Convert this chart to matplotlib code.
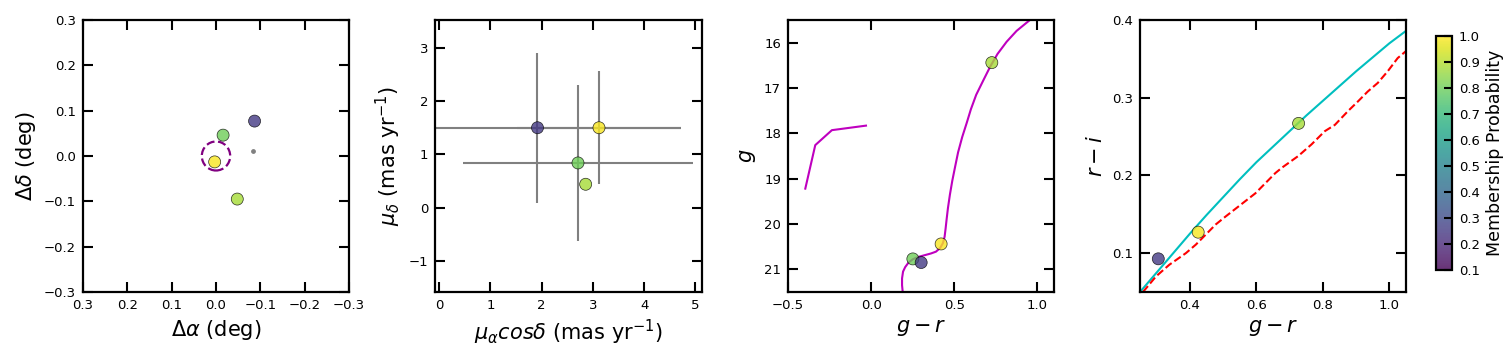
import numpy as np
import matplotlib
matplotlib.use("Agg")
import matplotlib.pyplot as plt
from matplotlib.patches import Circle

# ---- data ----
prob = [0.99, 0.80, 0.88, 0.25]                 # yellow, green, light green, dark
d_ra = [0.003, -0.016, -0.048, -0.087]
d_dec = [-0.013, 0.046, -0.095, 0.077]
other_ra = [-0.083]
other_dec = [0.012]
rh_deg = 0.032

pmra = [3.12, 2.71, 2.86, 1.92]
pmdec = [1.50, 0.84, 0.44, 1.50]
pmra_err = [1.60, 2.24, 0.0, 2.80]
pmdec_err = [1.06, 1.47, 0.0, 1.41]

g_r = [0.421, 0.251, 0.726, 0.301]
g_mag = [20.44, 20.77, 16.44, 20.85]

gr_col = [0.425, 0.727, 0.305]
ri_col = [0.127, 0.267, 0.0927]
ri_prob = [0.99, 0.88, 0.25]

iso_rgb_gr = [0.190, 0.186, 0.186, 0.192, 0.205, 0.225, 0.250, 0.280, 0.320,
              0.360, 0.390, 0.415, 0.432, 0.442, 0.448, 0.454, 0.462, 0.474,
              0.488, 0.505, 0.523, 0.548, 0.575, 0.600, 0.632, 0.675, 0.716,
              0.760, 0.815, 0.875, 0.955]
iso_rgb_g = [21.50, 21.35, 21.20, 21.05, 20.95, 20.85, 20.78, 20.73, 20.69,
             20.65, 20.61, 20.53, 20.42, 20.28, 20.10, 19.90, 19.65, 19.35,
             19.05, 18.74, 18.42, 18.08, 17.77, 17.47, 17.15, 16.83, 16.53,
             16.25, 15.98, 15.74, 15.50]
iso_hb_gr = [-0.396, -0.336, -0.236, -0.031]
iso_hb_g = [19.22, 18.26, 17.93, 17.83]

cc_iso_gr = [0.25, 0.30, 0.35, 0.40, 0.45, 0.50, 0.55, 0.60, 0.65, 0.70,
             0.75, 0.80, 0.85, 0.90, 0.95, 1.00, 1.05]
cc_iso_ri = [0.050, 0.075, 0.100, 0.125, 0.149, 0.172, 0.195, 0.217, 0.237,
             0.257, 0.277, 0.296, 0.315, 0.334, 0.352, 0.370, 0.386]

cc_loc_gr = [0.259, 0.298, 0.338, 0.368, 0.388, 0.418, 0.448, 0.478, 0.507,
             0.537, 0.567, 0.597, 0.627, 0.657, 0.677, 0.726, 0.766, 0.806,
             0.836, 0.876, 0.905, 0.935, 0.965, 0.995, 1.025, 1.050]
cc_loc_ri = [0.050, 0.070, 0.085, 0.094, 0.100, 0.111, 0.124, 0.137, 0.147,
             0.157, 0.167, 0.177, 0.190, 0.203, 0.210, 0.225, 0.240, 0.257,
             0.265, 0.283, 0.295, 0.308, 0.319, 0.334, 0.351, 0.360]

# ---- style ----
plt.rcParams['font.family'] = ['DejaVu Sans']
plt.rcParams['mathtext.fontset'] = 'dejavusans'
TICK_FS = 9.5
LAB_FS = 15
cmap = 'viridis'
vmin, vmax = 0.1, 1.0
sc_kw = dict(c=None, cmap=cmap, vmin=vmin, vmax=vmax, s=75, edgecolors='k',
             linewidths=0.5, alpha=0.8, zorder=3)

fig = plt.figure(figsize=(15.12, 3.6), dpi=100)
W, H = 1512.0, 360.0
def ax_at(l, r, t, b):
    return fig.add_axes([l / W, 1 - b / H, (r - l) / W, (b - t) / H])

def style(ax):
    ax.tick_params(direction='in', top=True, right=True, length=7, width=1.5,
                   labelsize=TICK_FS, pad=5)
    for s in ax.spines.values():
        s.set_linewidth(1.6)

# Panel 1
ax1 = ax_at(83, 349, 20, 292)
kw = dict(sc_kw); kw['c'] = prob
sc = ax1.scatter(d_ra, d_dec, **kw)
ax1.scatter(other_ra, other_dec, s=6, color='grey', zorder=2)
ax1.add_patch(Circle((0, 0), rh_deg, fill=False, ls='--', lw=1.6, color='purple', zorder=2))
ax1.set_xlim(0.3, -0.3)
ax1.set_ylim(-0.3, 0.3)
ax1.set_xticks(np.arange(-0.3, 0.31, 0.1))
ax1.set_yticks(np.arange(-0.3, 0.31, 0.1))
ax1.set_xlabel(r'$\Delta\alpha$ (deg)', fontsize=LAB_FS)
ax1.set_ylabel(r'$\Delta\delta$ (deg)', fontsize=LAB_FS)
style(ax1)

# Panel 2
ax2 = ax_at(435, 702, 20, 292)
ax2.errorbar(pmra, pmdec, xerr=pmra_err, yerr=pmdec_err, fmt='none',
             ecolor='grey', elinewidth=1.5, zorder=2)
kw = dict(sc_kw); kw['c'] = prob
ax2.scatter(pmra, pmdec, **kw)
ax2.set_xlim(-0.08, 5.13)
ax2.set_ylim(-1.58, 3.52)
ax2.set_xticks(range(0, 6))
ax2.set_yticks(range(-1, 4))
ax2.set_xlabel(r'$\mu_\alpha cos\delta$ (mas yr$^{-1}$)', fontsize=LAB_FS)
ax2.set_ylabel(r'$\mu_\delta$ (mas yr$^{-1}$)', fontsize=LAB_FS)
style(ax2)

# Panel 3
ax3 = ax_at(788, 1054, 20, 292)
ax3.plot(iso_rgb_gr, iso_rgb_g, color='m', lw=1.5, zorder=2)
ax3.plot(iso_hb_gr, iso_hb_g, color='m', lw=1.5, zorder=2)
kw = dict(sc_kw); kw['c'] = prob
ax3.scatter(g_r, g_mag, **kw)
ax3.set_xlim(-0.5, 1.1)
ax3.set_ylim(21.5, 15.5)
ax3.set_xticks([-0.5, 0.0, 0.5, 1.0])
ax3.set_yticks(range(16, 22))
ax3.set_xlabel(r'$g-r$', fontsize=LAB_FS)
ax3.set_ylabel(r'$g$', fontsize=LAB_FS)
style(ax3)

# Panel 4
ax4 = ax_at(1140, 1406, 20, 292)
ax4.plot(cc_iso_gr, cc_iso_ri, color='c', lw=1.5, zorder=2)
ax4.plot(cc_loc_gr, cc_loc_ri, color='r', ls='--', lw=1.5, zorder=2)
kw = dict(sc_kw); kw['c'] = ri_prob
ax4.scatter(gr_col, ri_col, **kw)
ax4.set_xlim(0.25, 1.05)
ax4.set_ylim(0.05, 0.4)
ax4.set_xticks([0.4, 0.6, 0.8, 1.0])
ax4.set_yticks([0.1, 0.2, 0.3, 0.4])
ax4.set_xlabel(r'$g-r$', fontsize=LAB_FS)
ax4.set_ylabel(r'$r-i$', fontsize=LAB_FS)
style(ax4)

# Colorbar
cax = ax_at(1436, 1452, 36, 270)
cb = fig.colorbar(sc, cax=cax)
cb.set_ticks(np.arange(0.1, 1.01, 0.1))
cb.ax.tick_params(direction='in', length=6, width=1.5, labelsize=TICK_FS, pad=5)
cb.outline.set_linewidth(1.6)
cb.set_label('Membership Probability', fontsize=12.5, labelpad=4)

fig.savefig('out.png', dpi=100)
